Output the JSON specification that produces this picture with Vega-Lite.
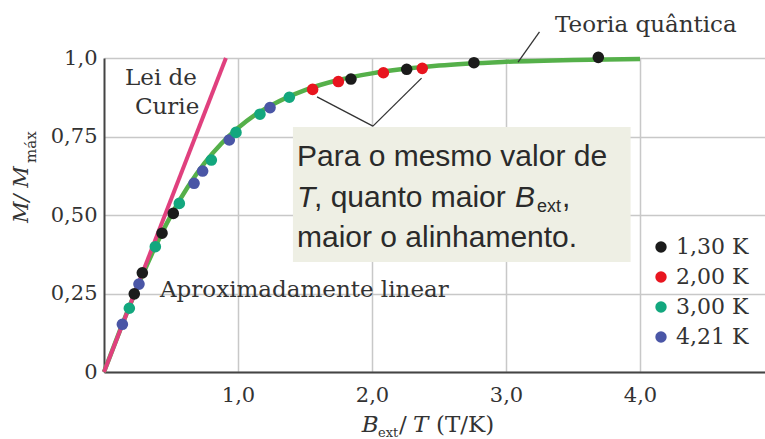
{
  "$schema": "https://vega.github.io/schema/vega-lite/v6.json",
  "width": 661,
  "height": 314,
  "autosize": {"type": "none"},
  "padding": {"top": 58, "left": 104, "right": 0, "bottom": 67},
  "background": "white",
  "config": {
    "view": {"stroke": null},
    "axis": {
      "domainColor": "#444444",
      "domainWidth": 2,
      "gridColor": "#c8c8c8",
      "gridWidth": 1.5,
      "ticks": false,
      "labelFont": "DejaVu Serif",
      "labelFontSize": 21,
      "labelColor": "#333333"
    },
    "legend": {
      "labelFont": "DejaVu Serif",
      "labelFontSize": 22,
      "labelColor": "#333333"
    }
  },
  "encoding": {
    "x": {
      "field": "x",
      "type": "quantitative",
      "scale": {"domain": [0, 4.933], "nice": false, "zero": false},
      "axis": {
        "title": null,
        "values": [1, 2, 3, 4],
        "grid": true,
        "labelPadding": 12,
        "labelExpr": "replace(format(datum.value, '.1f'), '.', ',')"
      }
    },
    "y": {
      "field": "y",
      "type": "quantitative",
      "scale": {"domain": [0, 1], "nice": false, "zero": false},
      "axis": {
        "title": null,
        "values": [0, 0.25, 0.5, 0.75, 1],
        "grid": true,
        "labelPadding": 7,
        "labelExpr": "datum.value == 0 ? '0' : (datum.value == 1 ? '1,0' : replace(format(datum.value, '.2f'), '.', ','))"
      }
    }
  },
  "layer": [
    {
      "data": {"values": [{"x": 1.41, "x2": 3.93, "y": 0.78, "y2": 0.35}]},
      "mark": {"type": "rect", "color": "#eeefe4"},
      "encoding": {"x2": {"field": "x2"}, "y2": {"field": "y2"}}
    },
    {
      "data": {"values": [
        {"x": 0, "y": 0}, {"x": 0.125, "y": 0.139}, {"x": 0.25, "y": 0.271},
        {"x": 0.375, "y": 0.392}, {"x": 0.5, "y": 0.499}, {"x": 0.625, "y": 0.589},
        {"x": 0.75, "y": 0.665}, {"x": 0.875, "y": 0.727}, {"x": 1.0, "y": 0.777},
        {"x": 1.125, "y": 0.818}, {"x": 1.25, "y": 0.85}, {"x": 1.5, "y": 0.898},
        {"x": 1.75, "y": 0.93}, {"x": 2.0, "y": 0.951}, {"x": 2.5, "y": 0.976},
        {"x": 3.0, "y": 0.988}, {"x": 3.5, "y": 0.994}, {"x": 4.0, "y": 0.997}
      ]},
      "mark": {"type": "line", "color": "#55b04a", "strokeWidth": 4.5, "interpolate": "monotone"},
      "encoding": {}
    },
    {
      "data": {"values": [{"x": 0, "y": 0}, {"x": 0.91, "y": 1.0}]},
      "mark": {"type": "line", "color": "#e0407e", "strokeWidth": 4},
      "encoding": {}
    },
    {
      "data": {"values": [
        {"x": 3.09, "y": 0.987, "x2": 3.25, "y2": 1.083},
        {"x": 2.007, "y": 0.783, "x2": 1.59, "y2": 0.876},
        {"x": 2.007, "y": 0.783, "x2": 2.37, "y2": 0.936}
      ]},
      "mark": {"type": "rule", "color": "#333333", "strokeWidth": 1.3},
      "encoding": {"x2": {"field": "x2"}, "y2": {"field": "y2"}}
    },
    {
      "data": {"values": [
        {"x": 0.137, "y": 0.152, "T": "4,21 K"}, {"x": 0.261, "y": 0.28, "T": "4,21 K"},
        {"x": 0.672, "y": 0.601, "T": "4,21 K"}, {"x": 0.736, "y": 0.64, "T": "4,21 K"},
        {"x": 0.935, "y": 0.739, "T": "4,21 K"}, {"x": 1.239, "y": 0.842, "T": "4,21 K"},
        {"x": 0.189, "y": 0.203, "T": "3,00 K"}, {"x": 0.383, "y": 0.399, "T": "3,00 K"},
        {"x": 0.562, "y": 0.537, "T": "3,00 K"}, {"x": 0.801, "y": 0.675, "T": "3,00 K"},
        {"x": 0.985, "y": 0.763, "T": "3,00 K"}, {"x": 1.164, "y": 0.821, "T": "3,00 K"},
        {"x": 1.383, "y": 0.875, "T": "3,00 K"},
        {"x": 0.226, "y": 0.249, "T": "1,30 K"}, {"x": 0.286, "y": 0.316, "T": "1,30 K"},
        {"x": 0.433, "y": 0.442, "T": "1,30 K"}, {"x": 0.517, "y": 0.505, "T": "1,30 K"},
        {"x": 1.843, "y": 0.933, "T": "1,30 K"}, {"x": 2.259, "y": 0.964, "T": "1,30 K"},
        {"x": 2.761, "y": 0.985, "T": "1,30 K"}, {"x": 3.689, "y": 1.002, "T": "1,30 K"},
        {"x": 1.557, "y": 0.9, "T": "2,00 K"}, {"x": 1.749, "y": 0.925, "T": "2,00 K"},
        {"x": 2.085, "y": 0.953, "T": "2,00 K"}, {"x": 2.375, "y": 0.967, "T": "2,00 K"}
      ]},
      "mark": {"type": "point", "filled": true, "opacity": 1, "size": 135, "shape": "circle"},
      "encoding": {
        "color": {
          "field": "T",
          "type": "nominal",
          "scale": {
            "domain": ["1,30 K", "2,00 K", "3,00 K", "4,21 K"],
            "range": ["#1b1b1b", "#e8151f", "#13a77e", "#4a56a6"]
          },
          "legend": {
            "title": null,
            "orient": "none",
            "legendX": 546,
            "legendY": 178,
            "padding": 0,
            "symbolType": "circle",
            "symbolSize": 130,
            "symbolStrokeWidth": 0,
            "rowPadding": 8,
            "labelOffset": 4
          }
        }
      }
    },
    {
      "data": {"values": [
        {"x": 0.157, "y": 0.914, "t": "Lei de"},
        {"x": 0.231, "y": 0.822, "t": "Curie"},
        {"x": 3.366, "y": 1.083, "t": "Teoria quântica"},
        {"x": 0.418, "y": 0.239, "t": "Aproximadamente linear"}
      ]},
      "mark": {"type": "text", "font": "DejaVu Serif", "fontSize": 23, "align": "left", "baseline": "alphabetic", "color": "#333333"},
      "encoding": {"text": {"field": "t"}}
    },
    {
      "data": {"values": [
        {"x": 2.201, "y": -0.19, "t": "/"},
        {"x": 2.478, "y": -0.19, "t": "(T/K)"}
      ]},
      "mark": {"type": "text", "font": "DejaVu Serif", "fontSize": 23, "align": "left", "baseline": "alphabetic", "color": "#333333"},
      "encoding": {"text": {"field": "t"}}
    },
    {
      "data": {"values": [
        {"x": 1.923, "y": -0.19, "t": "B"},
        {"x": 2.306, "y": -0.19, "t": "T"}
      ]},
      "mark": {"type": "text", "font": "DejaVu Serif", "fontSize": 23, "fontStyle": "italic", "align": "left", "baseline": "alphabetic", "color": "#333333"},
      "encoding": {"text": {"field": "t"}}
    },
    {
      "data": {"values": [{"x": 2.045, "y": -0.207, "t": "ext"}]},
      "mark": {"type": "text", "font": "DejaVu Serif", "fontSize": 13, "align": "left", "baseline": "alphabetic", "color": "#333333"},
      "encoding": {"text": {"field": "t"}}
    },
    {
      "data": {"values": [{"x": -0.567, "y": 0.4745, "t": "M/ M"}]},
      "mark": {"type": "text", "font": "DejaVu Serif", "fontSize": 21, "fontStyle": "italic", "angle": 270, "align": "left", "baseline": "alphabetic", "color": "#333333"},
      "encoding": {"text": {"field": "t"}}
    },
    {
      "data": {"values": [{"x": -0.507, "y": 0.666, "t": "máx"}]},
      "mark": {"type": "text", "font": "DejaVu Serif", "fontSize": 15, "angle": 270, "align": "left", "baseline": "alphabetic", "color": "#333333"},
      "encoding": {"text": {"field": "t"}}
    },
    {
      "data": {"values": [
        {"x": 1.44, "y": 0.656, "t": "Para o mesmo valor de"},
        {"x": 1.567, "y": 0.525, "t": ", quanto maior"},
        {"x": 3.418, "y": 0.525, "t": ","},
        {"x": 1.44, "y": 0.398, "t": "maior o alinhamento."}
      ]},
      "mark": {"type": "text", "font": "Liberation Sans", "fontSize": 30, "align": "left", "baseline": "alphabetic", "color": "#2a2a2a"},
      "encoding": {"text": {"field": "t"}}
    },
    {
      "data": {"values": [
        {"x": 1.44, "y": 0.525, "t": "T"},
        {"x": 3.067, "y": 0.525, "t": "B"}
      ]},
      "mark": {"type": "text", "font": "Liberation Sans", "fontSize": 30, "fontStyle": "italic", "align": "left", "baseline": "alphabetic", "color": "#2a2a2a"},
      "encoding": {"text": {"field": "t"}}
    },
    {
      "data": {"values": [{"x": 3.231, "y": 0.51, "t": "ext"}]},
      "mark": {"type": "text", "font": "Liberation Sans", "fontSize": 18, "align": "left", "baseline": "alphabetic", "color": "#2a2a2a"},
      "encoding": {"text": {"field": "t"}}
    }
  ]
}
